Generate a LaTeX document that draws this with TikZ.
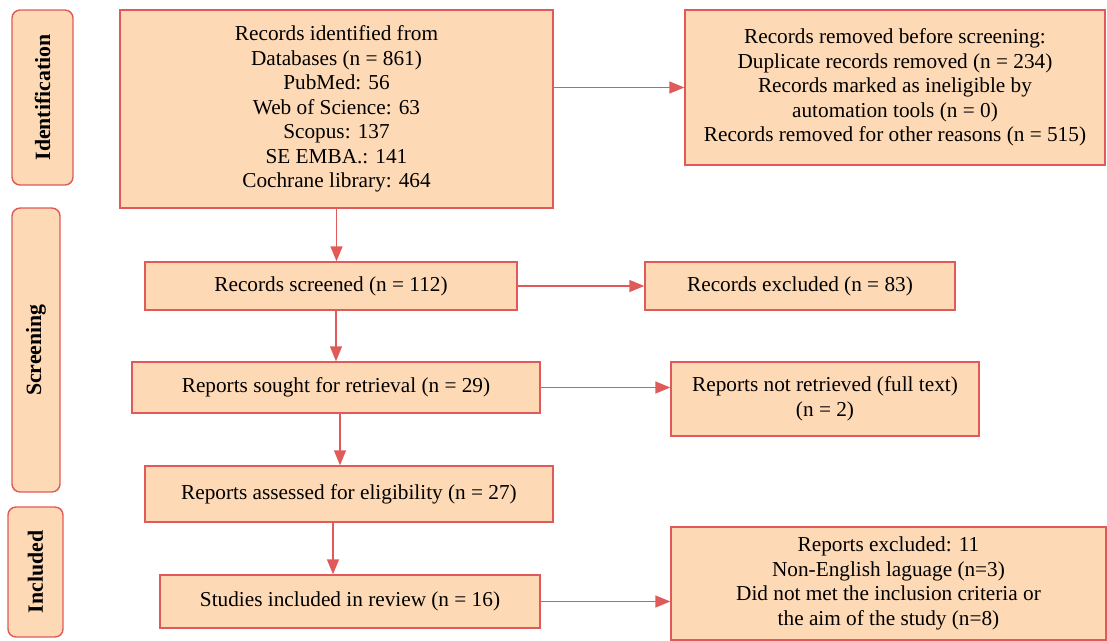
\documentclass[tikz,border=0pt]{standalone}
\usepackage{fontspec}
\setmainfont{Liberation Serif}
\usepackage{xcolor}
\usetikzlibrary{arrows.meta, positioning}
\definecolor{peche}{HTML}{FDD9B5}
\definecolor{rouge}{HTML}{E05A5A}

\begin{document}
\begin{tikzpicture}[x=0.02cm, y=-0.02cm, >={Triangle[length=0.3cm, width=0.24cm]},
    boite/.style={draw=rouge, fill=peche, line width=0.8pt, align=center, inner sep=2pt,
        font=\fontsize{12.1}{14}\selectfont},
    phase/.style={draw=rouge, fill=peche, line width=0.8pt, rounded corners=0.16cm,
        rotate=90, inner sep=0pt, font=\fontsize{12.4}{14}\selectfont\bfseries},
    fleche/.style={->, draw=rouge, line width=0.8pt}]
    % Cadre de l'image
    \useasboundingbox (0,0) rectangle (1107,640);

    % Colonne de gauche : les trois phases
    \node[phase, minimum width=3.5cm, minimum height=1.22cm] (ident) at (42.5,97.5) {Identification};
    \node[phase, minimum width=5.68cm, minimum height=0.96cm] (scrn) at (36,350) {Screening};
    \node[phase, minimum width=2.6cm, minimum height=1.1cm] (incl) at (35.5,572) {Included};

    % Identification
    \node[boite, minimum width=8.66cm, minimum height=3.96cm] (id) at (336.5,109)
        {Records identified from\\ Databases (n = 861)\\ PubMed: 56\\ Web of Science: 63\\
         Scopus: 137\\ SE EMBA.: 141\\ Cochrane library: 464};
    \node[boite, minimum width=8.4cm, minimum height=3.1cm] (rem) at (895,87.5)
        {Records removed before screening:\\ Duplicate records removed (n = 234)\\
         Records marked as ineligible by\\ automation tools (n = 0)\\
         Records removed for other reasons (n = 515)};

    % Screening
    \node[boite, minimum width=7.44cm, minimum height=0.96cm] (scr) at (331,286) {Records screened (n = 112)};
    \node[boite, minimum width=6.2cm, minimum height=0.96cm] (excl) at (800,286) {Records excluded (n = 83)};
    \node[boite, minimum width=8.16cm, minimum height=1.02cm] (sought) at (336,387.5) {Reports sought for retrieval (n = 29)};
    \node[boite, minimum width=6.16cm, minimum height=1.48cm] (notret) at (825,399)
        {Reports not retrieved (full text)\\ (n = 2)};
    \node[boite, minimum width=8.16cm, minimum height=1.12cm] (ass) at (349,494) {Reports assessed for eligibility (n = 27)};

    % Included
    \node[boite, minimum width=7.6cm, minimum height=1.06cm] (stud) at (350,601.5) {Studies included in review (n = 16)};
    \node[boite, minimum width=8.7cm, minimum height=2.26cm] (repexcl) at (888.5,583.5)
        {Reports excluded: 11\\ Non-English laguage (n=3)\\
         Did not met the inclusion criteria or\\ the aim of the study (n=8)};

    % Fleches
    \draw[fleche] (id.east |- rem.west) -- (rem.west);
    \draw[fleche] (id.south) -- (id.south |- scr.north);
    \draw[fleche] (scr) -- (excl);
    \draw[fleche] (scr.south -| sought.north) -- (sought.north);
    \draw[fleche] (sought.east) -- (sought.east -| notret.west);
    \draw[fleche] ([xshift=0.08cm]sought.south) -- ([xshift=0.08cm]sought.south |- ass.north);
    \draw[fleche] ([xshift=-0.32cm]ass.south) -- ([xshift=-0.32cm]ass.south |- stud.north);
    \draw[fleche] (stud.east) -- (stud.east -| repexcl.west);

\end{tikzpicture}
\end{document}
